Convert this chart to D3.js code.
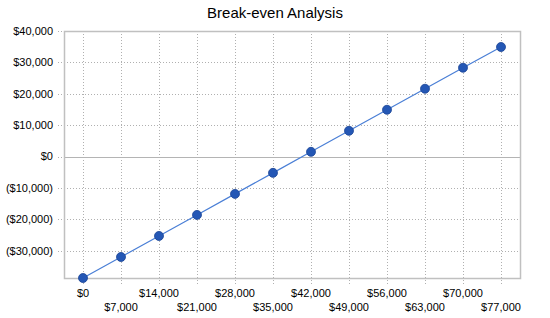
<!DOCTYPE html>
<html lang="en">
<head>
	<meta charset="UTF-8">
	<title>Break-even Analysis</title>
	<script src="https://cdnjs.cloudflare.com/ajax/libs/d3/7.8.5/d3.min.js"></script>
	<style>
		body{margin:0;background:#fff;}
		text{font-family:"Liberation Sans",Arial,sans-serif;fill:#000;}
		.grid line{stroke:#b0b0b0;stroke-width:1;stroke-dasharray:1,2;}
	</style>
</head>
<body>
	<div id="container"></div>
<script>
	// units sold (revenue) categories and profit/loss
	var categories=[0,7000,14000,21000,28000,35000,42000,49000,56000,63000,70000,77000]
	var profit=[-38700,-32000,-25300,-18600,-11900,-5200,1500,8200,14900,21600,28300,34900]
	var yTicks=[-30000,-20000,-10000,0,10000,20000,30000,40000]

	var width=550,height=318,
	margin={left:64,top:31,right:30,bottom:40},
	g_width=width-margin.left-margin.right,
	g_height=height-margin.top-margin.bottom

	var fmt=function(v){
		var s='$'+d3.format(',')(Math.abs(v))
		return v<0?'('+s+')':s
	}

	var svg=d3.select('#container').append('svg')
	.attr('width',width).attr('height',height)

	svg.append('text')
	.attr('x',275).attr('y',18)
	.attr('text-anchor','middle')
	.style('font-size','15px')
	.text('Break-even Analysis')

	var g=svg.append('g')
	.attr('transform','translate('+margin.left+','+margin.top+')')

	var x=d3.scalePoint().domain(categories).range([0,g_width]).padding(0.5)
	var y=d3.scaleLinear().domain([-38700,40000]).range([g_height,0])

	// horizontal grid
	g.append('g').attr('class','grid')
	.selectAll('line').data(yTicks).enter().append('line')
	.attr('x1',-6).attr('x2',g_width)
	.attr('y1',function(d){return Math.round(y(d))+0.5})
	.attr('y2',function(d){return Math.round(y(d))+0.5})

	// vertical grid
	g.append('g').attr('class','grid')
	.selectAll('line').data(categories).enter().append('line')
	.attr('x1',function(d){return Math.round(x(d))+0.5})
	.attr('x2',function(d){return Math.round(x(d))+0.5})
	.attr('y1',0).attr('y2',g_height+6)

	// zero line
	g.append('line')
	.attr('x1',0).attr('x2',g_width)
	.attr('y1',Math.round(y(0))+0.5).attr('y2',Math.round(y(0))+0.5)
	.attr('stroke','#b4b4b4')

	// frame
	g.append('rect')
	.attr('x',0.5).attr('y',0.5)
	.attr('width',g_width).attr('height',g_height)
	.attr('fill','none').attr('stroke','#c0c0c0').attr('stroke-width',1.5)

	// y labels
	g.append('g').selectAll('text').data(yTicks).enter().append('text')
	.attr('x',-11).attr('y',function(d){return y(d)})
	.attr('dy','0.35em')
	.attr('text-anchor','end')
	.style('font-size','11px')
	.text(fmt)

	// x labels, staggered
	g.append('g').selectAll('text').data(categories).enter().append('text')
	.attr('x',function(d){return x(d)})
	.attr('y',function(d,i){return g_height+(i%2===0?15:29)})
	.attr('dy','0.35em')
	.attr('text-anchor','middle')
	.style('font-size','11px')
	.text(fmt)

	var line=d3.line()
	.x(function(d,i){return x(categories[i])})
	.y(function(d){return y(d)})

	g.append('path')
	.attr('d',line(profit))
	.attr('fill','none')
	.attr('stroke','#4a7fd6')
	.attr('stroke-width',1.2)

	g.append('g').selectAll('circle').data(profit).enter().append('circle')
	.attr('cx',function(d,i){return x(categories[i])})
	.attr('cy',function(d){return y(d)})
	.attr('r',4.5)
	.attr('fill','#2457b5')
	.attr('stroke','#1a4494')
	.attr('stroke-width',0.8)
</script>
</body>
</html>
